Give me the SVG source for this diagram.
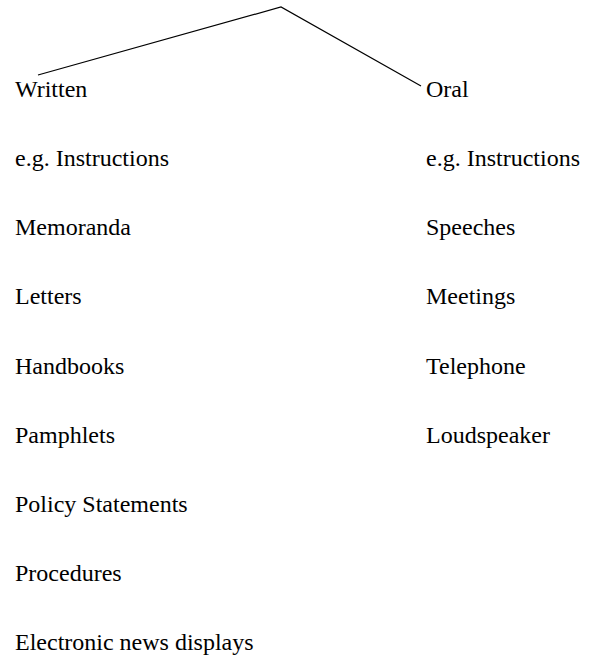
<svg xmlns="http://www.w3.org/2000/svg" width="596" height="657" viewBox="0 0 596 657">
  <style>
    .lbl { font-family: "Liberation Serif", "Times New Roman", serif; font-size: 24px; fill: #000; }
    .edge { stroke: #000; stroke-width: 1.2; fill: none; }
  </style>
  <rect width="596" height="657" fill="#fff"/>
  <g id="connectors">
    <polyline class="edge" points="38,75 281,7 421,86"/>
  </g>
  <g id="written">
    <text class="lbl" x="15" y="97">Written</text>
    <text class="lbl" x="15" y="166">e.g. Instructions</text>
    <text class="lbl" x="15" y="235">Memoranda</text>
    <text class="lbl" x="15" y="304">Letters</text>
    <text class="lbl" x="15" y="374">Handbooks</text>
    <text class="lbl" x="15" y="443">Pamphlets</text>
    <text class="lbl" x="15" y="512">Policy Statements</text>
    <text class="lbl" x="15" y="581">Procedures</text>
    <text class="lbl" x="15" y="650">Electronic news displays</text>
  </g>
  <g id="oral">
    <text class="lbl" x="426" y="97">Oral</text>
    <text class="lbl" x="426" y="166">e.g. Instructions</text>
    <text class="lbl" x="426" y="235">Speeches</text>
    <text class="lbl" x="426" y="304">Meetings</text>
    <text class="lbl" x="426" y="374">Telephone</text>
    <text class="lbl" x="426" y="443">Loudspeaker</text>
  </g>
</svg>
